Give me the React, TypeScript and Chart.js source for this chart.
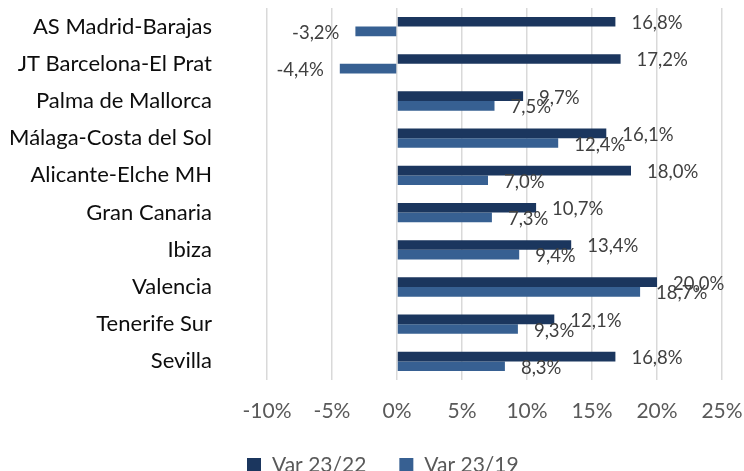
import React, { useEffect, useRef } from 'react';
import { Chart, registerables } from 'chart.js';

Chart.register(...registerables);

const categories = [
  'AS Madrid-Barajas',
  'JT Barcelona-El Prat',
  'Palma de Mallorca',
  'Málaga-Costa del Sol',
  'Alicante-Elche MH',
  'Gran Canaria',
  'Ibiza',
  'Valencia',
  'Tenerife Sur',
  'Sevilla',
];
const var2322 = [16.8, 17.2, 9.7, 16.1, 18.0, 10.7, 13.4, 20.0, 12.1, 16.8];
const var2319 = [-3.2, -4.4, 7.5, 12.4, 7.0, 7.3, 9.4, 18.7, 9.3, 8.3];
const seriesLabels = ['Var 23/22', 'Var 23/19'];
const xMin = -10;
const xMax = 25;
const xStep = 5;

const DARK = '#1b365e';
const LIGHT = '#376092';
const FONT = 'Lato';

const fmt = (v: number) => v.toFixed(1).replace('.', ',') + '%';

const dataLabels = {
  id: 'dataLabels',
  afterDatasetsDraw(chart: any) {
    const ctx = chart.ctx;
    ctx.save();
    ctx.font = `18.5px ${FONT}`;
    ctx.fillStyle = '#404040';
    ctx.textBaseline = 'middle';
    chart.data.datasets.forEach((ds: any, di: number) => {
      const meta = chart.getDatasetMeta(di);
      meta.data.forEach((el: any, i: number) => {
        const v = ds.data[i] as number;
        const txt = fmt(v);
        if (v >= 0) {
          ctx.textAlign = 'left';
          ctx.fillText(txt, el.x + 16, el.y + 1.5);
        } else {
          ctx.textAlign = 'right';
          ctx.fillText(txt, el.x - 16, el.y + 1.5);
        }
      });
    });
    ctx.restore();
  },
};

const customLegend = {
  id: 'customLegend',
  afterDraw(chart: any) {
    const ctx = chart.ctx;
    ctx.save();
    ctx.font = `21px ${FONT}`;
    ctx.textBaseline = 'middle';
    ctx.textAlign = 'left';
    const box = 14;
    const gapBoxText = 11;
    const gapItems = 33;
    const items = chart.data.datasets.map((ds: any) => ({
      text: ds.label as string,
      color: ds.backgroundColor as string,
      w: box + gapBoxText + ctx.measureText(ds.label).width,
    }));
    let x = 247;
    const cy = 465;
    items.forEach((it: any) => {
      ctx.fillStyle = it.color;
      ctx.fillRect(x, cy - box / 2, box, box);
      ctx.fillStyle = '#595959';
      ctx.fillText(it.text, x + box + gapBoxText, cy);
      x += it.w + gapItems;
    });
    ctx.restore();
  },
};

export default function App() {
  const ref = useRef<HTMLCanvasElement | null>(null);

  useEffect(() => {
    document.body.style.margin = '0';
    const canvas = ref.current;
    if (!canvas) return;
    const chart = new Chart(canvas, {
      type: 'bar',
      data: {
        labels: categories,
        datasets: [
          {
            label: seriesLabels[0],
            data: var2322,
            backgroundColor: DARK,
            barPercentage: 1,
            categoryPercentage: 0.52,
          },
          {
            label: seriesLabels[1],
            data: var2319,
            backgroundColor: LIGHT,
            barPercentage: 1,
            categoryPercentage: 0.52,
          },
        ],
      },
      options: {
        indexAxis: 'y',
        responsive: false,
        animation: false,
        layout: { padding: { top: 8, right: 22, bottom: 41, left: 0 } },
        plugins: {
          legend: { display: false },
          tooltip: { enabled: false },
          title: { display: false },
        },
        scales: {
          x: {
            type: 'linear',
            min: xMin,
            max: xMax,
            ticks: {
              stepSize: xStep,
              padding: 19,
              color: '#595959',
              font: { family: FONT, size: 21 },
              callback: (v: any) => `${v}%`,
            },
            grid: { color: '#d9d9d9', lineWidth: 1.5, drawTicks: false },
            border: { display: false },
            afterFit: (scale: any) => {
              scale.height = 50;
              scale.paddingLeft = 0;
              scale.paddingRight = 0;
            },
          },
          y: {
            ticks: {
              padding: 55,
              color: '#0d0d0d',
              font: { family: FONT, size: 22 },
            },
            grid: { display: false, drawTicks: false },
            border: { display: false },
            afterFit: (scale: any) => {
              scale.width = 267;
              scale.paddingTop = 0;
              scale.paddingBottom = 0;
            },
          },
        },
      },
      plugins: [dataLabels, customLegend],
    });
    return () => chart.destroy();
  }, []);

  return <canvas ref={ref} width={744} height={471} style={{ display: 'block' }} />;
}
